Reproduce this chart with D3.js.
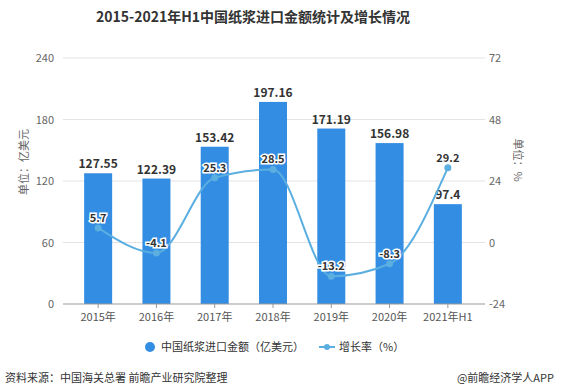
<!DOCTYPE html>
<html>
<head>
<meta charset="utf-8">
<script src="https://cdn.jsdelivr.net/npm/d3@7"></script>
<style>
  body { margin: 0; background: #fff; }
  svg { font-family: "Noto Sans CJK SC", "Noto Sans", sans-serif; }
</style>
</head>
<body>
<div id="chart"></div>
<script>
var categories = ["2015年", "2016年", "2017年", "2018年", "2019年", "2020年", "2021年H1"];
var importValues = [127.55, 122.39, 153.42, 197.16, 171.19, 156.98, 97.4];
var growthRates = [5.7, -4.1, 25.3, 28.5, -13.2, -8.3, 29.2];
var leftTicks = [0, 60, 120, 180, 240];
var rightTicks = [-24, 0, 24, 48, 72];

var svgWidth = 561;
var svgHeight = 390;

var svg = d3.select("#chart")
  .append("svg")
  .attr("width", svgWidth)
  .attr("height", svgHeight);

var plot = { left: 63, right: 485, top: 58, bottom: 304 };

var xScale = d3.scaleBand()
  .domain(categories)
  .range([69, 477]);

var yLeft = d3.scaleLinear().domain([0, 240]).range([plot.bottom, plot.top]);
var yRight = d3.scaleLinear().domain([-24, 72]).range([plot.bottom, plot.top]);

var barColor = "#338de3";
var lineColor = "#5aaee0";

// title
svg.append("text")
  .attr("x", 253)
  .attr("y", 22)
  .attr("text-anchor", "middle")
  .style("font-size", "14px")
  .style("font-weight", "bold")
  .style("fill", "#333")
  .text("2015-2021年H1中国纸浆进口金额统计及增长情况");

// grid lines
svg.append("g").selectAll("line")
  .data(leftTicks.slice(1))
  .enter()
  .append("line")
  .attr("x1", plot.left)
  .attr("x2", plot.right)
  .attr("y1", d => yLeft(d))
  .attr("y2", d => yLeft(d))
  .style("stroke", "#e3e3e3")
  .style("stroke-width", 1);

// left axis labels
svg.append("g").selectAll("text")
  .data(leftTicks)
  .enter()
  .append("text")
  .attr("x", 54)
  .attr("y", d => yLeft(d) + 4)
  .attr("text-anchor", "end")
  .style("font-size", "11px")
  .style("fill", "#666")
  .text(d => d);

// right axis labels
svg.append("g").selectAll("text")
  .data(rightTicks)
  .enter()
  .append("text")
  .attr("x", 489)
  .attr("y", d => yRight(d) + 4)
  .attr("text-anchor", "start")
  .style("font-size", "11px")
  .style("fill", "#666")
  .text(d => d);

// axis names
svg.append("text")
  .attr("transform", "translate(28, 162) rotate(-90)")
  .attr("text-anchor", "middle")
  .style("font-size", "11px")
  .style("fill", "#666")
  .text("单位：亿美元");

svg.append("text")
  .attr("transform", "translate(514, 160) rotate(90)")
  .attr("text-anchor", "middle")
  .style("font-size", "11px")
  .style("fill", "#666")
  .text("单位：%");

// bars
var barWidth = 28;
svg.append("g").selectAll("rect")
  .data(importValues)
  .enter()
  .append("rect")
  .attr("x", (d, i) => xScale(categories[i]) + xScale.bandwidth() / 2 - barWidth / 2)
  .attr("y", d => yLeft(d))
  .attr("width", barWidth)
  .attr("height", d => plot.bottom - yLeft(d))
  .style("fill", barColor);

// bottom axis
var bottomAxis = d3.axisBottom(xScale).tickSize(4).tickSizeOuter(0);
var xAxis = svg.append("g")
  .attr("transform", `translate(0, ${plot.bottom})`)
  .call(bottomAxis);
xAxis.select(".domain").remove();
xAxis.selectAll("line").style("stroke", "#999");
xAxis.selectAll("text")
  .attr("dy", "0.9em")
  .style("font-size", "11px")
  .style("fill", "#555")
  .style("font-family", "\"Noto Sans CJK SC\", sans-serif");
xAxis.append("line")
  .attr("x1", plot.left)
  .attr("x2", plot.right)
  .style("stroke", "#999");

// bar labels
svg.append("g").selectAll("text")
  .data(importValues)
  .enter()
  .append("text")
  .attr("x", (d, i) => xScale(categories[i]) + xScale.bandwidth() / 2)
  .attr("y", d => yLeft(d) - 5)
  .attr("text-anchor", "middle")
  .style("font-size", "12px")
  .style("font-weight", "bold")
  .style("fill", "#333")
  .text(d => d);

// growth line
var line = d3.line()
  .x((d, i) => xScale(categories[i]) + xScale.bandwidth() / 2)
  .y(d => yRight(d))
  .curve(d3.curveMonotoneX);

svg.append("path")
  .datum(growthRates)
  .attr("d", line)
  .style("fill", "none")
  .style("stroke", lineColor)
  .style("stroke-width", 2);

svg.append("g").selectAll("circle")
  .data(growthRates)
  .enter()
  .append("circle")
  .attr("cx", (d, i) => xScale(categories[i]) + xScale.bandwidth() / 2)
  .attr("cy", d => yRight(d))
  .attr("r", 3.5)
  .style("fill", lineColor);

// line labels with white halo
svg.append("g").selectAll("text")
  .data(growthRates)
  .enter()
  .append("text")
  .attr("x", (d, i) => xScale(categories[i]) + xScale.bandwidth() / 2)
  .attr("y", d => yRight(d) - 6)
  .attr("text-anchor", "middle")
  .style("font-size", "11px")
  .style("font-weight", "bold")
  .style("fill", "#333")
  .style("stroke", "#fff")
  .style("stroke-width", 3)
  .style("paint-order", "stroke")
  .text(d => d);

// legend
var legend = svg.append("g");
legend.append("circle")
  .attr("cx", 150)
  .attr("cy", 347)
  .attr("r", 5)
  .style("fill", barColor);
legend.append("text")
  .attr("x", 161)
  .attr("y", 351)
  .style("font-size", "11px")
  .style("fill", "#333")
  .text("中国纸浆进口金额（亿美元）");
legend.append("line")
  .attr("x1", 319)
  .attr("x2", 335)
  .attr("y1", 347)
  .attr("y2", 347)
  .style("stroke", lineColor)
  .style("stroke-width", 2);
legend.append("circle")
  .attr("cx", 327)
  .attr("cy", 347)
  .attr("r", 3)
  .style("fill", lineColor);
legend.append("text")
  .attr("x", 339)
  .attr("y", 351)
  .style("font-size", "11px")
  .style("fill", "#333")
  .text("增长率（%）");

// footer
svg.append("text")
  .attr("x", 5)
  .attr("y", 382)
  .style("font-size", "11px")
  .style("fill", "#333")
  .text("资料来源：中国海关总署 前瞻产业研究院整理");
svg.append("text")
  .attr("x", 554)
  .attr("y", 382)
  .attr("text-anchor", "end")
  .style("font-size", "11px")
  .style("fill", "#333")
  .text("@前瞻经济学人APP");
</script>
</body>
</html>
